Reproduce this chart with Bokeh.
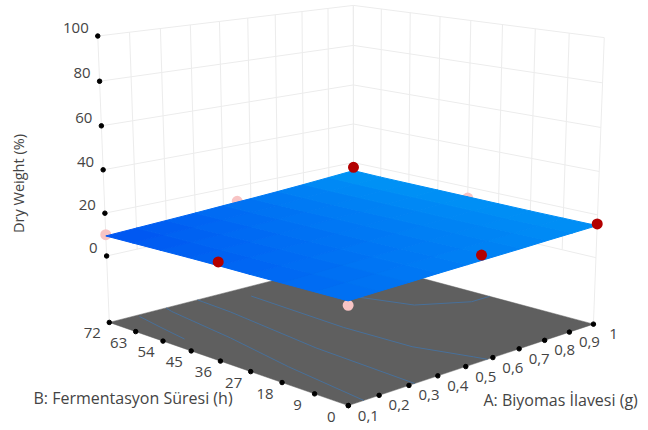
import numpy as np
from bokeh.plotting import figure
from bokeh.models import Range1d
from bokeh.core.properties import value
from bokeh.embed import file_html
from bokeh.resources import INLINE

a_ticks = [0.1, 0.2, 0.3, 0.4, 0.5, 0.6, 0.7, 0.8, 0.9, 1.0]
a_labels = ["0,1", "0,2", "0,3", "0,4", "0,5", "0,6", "0,7", "0,8", "0,9", "1"]
b_ticks = [0, 9, 18, 27, 36, 45, 54, 63, 72]
z_ticks = [0, 20, 40, 60, 80, 100]
FLOOR = -31.6

# response surface: rows follow b_ticks, columns follow a_ticks
surface_z = [
    [12.0, 12.4, 12.7, 13.1, 13.4, 13.7, 14.0, 14.4, 14.7, 15.0],
    [11.7, 12.1, 12.4, 12.8, 13.2, 13.5, 13.8, 14.2, 14.6, 15.0],
    [11.4, 11.8, 12.2, 12.6, 12.9, 13.3, 13.7, 14.1, 14.5, 15.0],
    [11.1, 11.5, 11.9, 12.3, 12.7, 13.1, 13.6, 14.0, 14.6, 15.1],
    [10.9, 11.3, 11.7, 12.1, 12.5, 13.0, 13.5, 14.0, 14.6, 15.2],
    [10.6, 11.0, 11.4, 11.9, 12.4, 12.9, 13.4, 13.9, 14.6, 15.3],
    [10.2, 10.7, 11.2, 11.7, 12.2, 12.8, 13.3, 13.9, 14.6, 15.4],
    [9.8, 10.4, 10.9, 11.4, 12.0, 12.6, 13.2, 13.9, 14.7, 15.5],
    [9.4, 10.0, 10.6, 11.2, 11.9, 12.5, 13.2, 14.0, 14.9, 15.8],
]

red_a = [1.0, 1.0, 0.1, 0.55]
red_b = [72, 0, 36, 0]
red_z = [17.5, 15.8, 12.5, 15.9]
pink_a = [0.1, 0.1, 0.55, 1.0]
pink_b = [72, 0, 72, 36]
pink_z = [10.0, 10.2, 12.6, 14.6]

# contour traces on the floor, as (A, B)
contour_1 = [(1.0, 29), (0.925, 29), (0.79, 36), (0.73, 50)]
contour_2 = [(0.53, 66), (0.51, 35), (0.52, 16), (0.57, 3), (0.58, 0)]
contour_3 = [(0.40, 72), (0.39, 60), (0.34, 29), (0.32, 0)]
contour_4 = [(0.29, 72), (0.28, 69), (0.24, 46), (0.19, 24), (0.15, 0)]
contour_5 = [(0.19, 71), (0.17, 62), (0.15, 52)]

# camera calibration: (A, B, z) -> page pixel
calib = [
    ((0.1, 72, 100), (97, 36)), ((0.1, 72, 0), (106, 254)), ((0.1, 72, FLOOR), (109, 323)),
    ((1, 0, 100), (604, 37)), ((1, 0, 0), (595, 257)), ((1, 0, FLOOR), (593, 324)),
    ((1, 72, 100), (353, 5)), ((1, 72, 0), (353, 200)), ((0.1, 0, FLOOR), (348, 405)),
]
rows = []
rhs = []
for (X, Y, Z), (u, v) in calib:
    rows.append([X, Y, Z, 1, 0, 0, 0, 0, -u * X, -u * Y, -u * Z])
    rows.append([0, 0, 0, 0, X, Y, Z, 1, -v * X, -v * Y, -v * Z])
    rhs += [u, v]
cam = np.append(np.linalg.lstsq(np.array(rows, float), np.array(rhs, float), rcond=None)[0], 1).reshape(3, 4)


def proj(A, B, Z):
    h = cam @ np.array([A, B, Z, 1.0])
    return h[0] / h[2], h[1] / h[2]


def pts(seq):
    xy = [proj(*s) for s in seq]
    return [q[0] for q in xy], [q[1] for q in xy]


p = figure(width=648, height=430, x_range=Range1d(0, 648), y_range=Range1d(430, 0),
           output_backend="svg", toolbar_location=None, min_border=0)
p.axis.visible = False
p.grid.visible = False
p.outline_line_color = None
p.background_fill_color = "white"

wall = "#ececec"
a0, a1 = a_ticks[0], a_ticks[-1]
b0, b1 = b_ticks[0], b_ticks[-1]
xs, ys = [], []
for a in a_ticks:
    x, y = pts([(a, b1, FLOOR if a == a0 else 0), (a, b1, 100)])
    xs.append(x); ys.append(y)
for b in b_ticks:
    x, y = pts([(a1, b, FLOOR if b in (b0, b1) else 0), (a1, b, 100)])
    xs.append(x); ys.append(y)
for z in z_ticks:
    x, y = pts([(a0, b1, z), (a1, b1, z), (a1, b0, z)])
    xs.append(x); ys.append(y)
p.multi_line(xs, ys, line_color=wall, line_width=1)

x, y = pts([(a0, b0, FLOOR), (a1, b0, FLOOR), (a1, b1, FLOOR), (a0, b1, FLOOR)])
p.patch(x, y, fill_color="#5f5f5f", line_color="#5f5f5f", line_width=0.5)

cx, cy = [], []
for c in (contour_1, contour_2, contour_3, contour_4, contour_5):
    x, y = pts([(A, B, FLOOR) for A, B in c])
    cx.append(x); cy.append(y)
p.multi_line(cx, cy, line_color="#48709a", line_width=1)

tick_pts = [(a, b0, FLOOR) for a in a_ticks] + [(a0, b, FLOOR) for b in b_ticks] + [(a0, b1, z) for z in z_ticks]
x, y = pts(tick_pts)
p.scatter(x, y, size=4.5, color="black")

pink_xy = pts(list(zip(pink_a, pink_b, pink_z)))
p.scatter(pink_xy[0], pink_xy[1], size=11, fill_color="#f8c4c4", line_color=None)

zs = np.array(surface_z)
lo_c = np.array([0, 84, 242.0])
hi_c = np.array([0, 150, 246.0])
sx, sy, sc = [], [], []
for j in range(len(b_ticks) - 1):
    for i in range(len(a_ticks) - 1):
        quad = [(i, j), (i + 1, j), (i + 1, j + 1), (i, j + 1)]
        x, y = pts([(a_ticks[m], b_ticks[n], zs[n, m]) for m, n in quad])
        t = (np.mean([zs[n, m] for m, n in quad]) - 9.5) / 6.0
        c = lo_c + (hi_c - lo_c) * np.clip(t, 0, 1)
        sx.append(x); sy.append(y)
        sc.append("#%02x%02x%02x" % tuple(int(v) for v in c))
p.patches(sx, sy, fill_color=sc, line_color=sc, line_width=1)

red_xy = pts(list(zip(red_a, red_b, red_z)))
p.scatter(red_xy[0], red_xy[1], size=11, fill_color="#b30000", line_color=None)

font = value("Open Sans")
tc = "#444444"
fs = "15px"

x, y = pts([(a0, b1, z) for z in z_ticks])
p.text(x, y, text=[str(z) for z in z_ticks], text_font=font, text_font_size=fs, text_color=tc,
       text_align="right", text_baseline="middle", x_offset=-9, y_offset=-8)
x, y = pts([(a0, b, FLOOR) for b in b_ticks])
p.text(x, y, text=[str(b) for b in b_ticks], text_font=font, text_font_size=fs, text_color=tc,
       text_align="center", text_baseline="middle", x_offset=-17, y_offset=11)
x, y = pts([(a, b0, FLOOR) for a in a_ticks])
p.text(x, y, text=a_labels, text_font=font, text_font_size=fs, text_color=tc,
       text_align="center", text_baseline="middle", x_offset=20, y_offset=10)

p.text([18], [183], text=["Dry Weight (%)"], angle=[np.pi / 2], text_font=font, text_font_size="14.5px",
       text_color=tc, text_align="center", text_baseline="middle")
p.text([33], [397], text=["B: Fermentasyon Süresi (h)"], text_font=font, text_font_size="16px", text_color=tc,
       text_align="left", text_baseline="middle")
p.text([483], [399], text=["A: Biyomas İlavesi (g)"], text_font=font, text_font_size="16px", text_color=tc,
       text_align="left", text_baseline="middle")

open("out.html", "w").write(file_html(p, INLINE))
